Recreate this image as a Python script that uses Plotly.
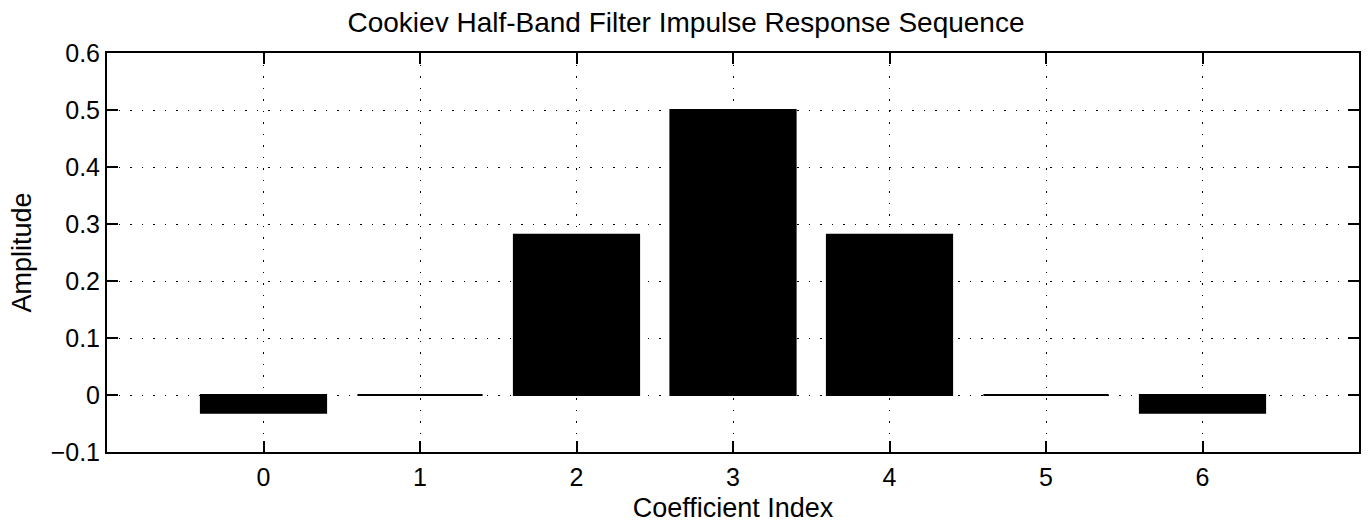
import plotly.graph_objects as go

coef_index = [0, 1, 2, 3, 4, 5, 6]
amplitude = [-0.03125, 0.0, 0.28125, 0.5, 0.28125, 0.0, -0.03125]
y_ticks = [-0.1, 0, 0.1, 0.2, 0.3, 0.4, 0.5, 0.6]
y_tick_text = ["\u22120.1", "0", "0.1", "0.2", "0.3", "0.4", "0.5", "0.6"]

font = "Liberation Sans, Arial, sans-serif"
fs = 25

fig = go.Figure()
fig.add_trace(go.Bar(
    x=coef_index, y=amplitude, width=0.8,
    marker=dict(color="black", line=dict(color="black", width=2)),
    showlegend=False,
))

axis_common = dict(
    showline=True, linecolor="black", linewidth=2, mirror="ticks",
    ticks="inside", ticklen=11, tickwidth=2, tickcolor="black",
    showgrid=True, gridcolor="black", gridwidth=1.2, griddash="1.5px,10px",
    zeroline=False, automargin=False,
    tickfont=dict(family=font, size=fs, color="black"),
)

fig.update_xaxes(range=[-1, 7], tickvals=coef_index,
                 title=dict(text="Coefficient Index", font=dict(family=font, size=27, color="black"), standoff=8),
                 ticklabelstandoff=2,
                 **axis_common)
fig.update_yaxes(range=[-0.1, 0.6], tickvals=y_ticks, ticktext=y_tick_text,
                 title=dict(text="Amplitude", font=dict(family=font, size=27, color="black"), standoff=11),
                 **axis_common)

fig.update_layout(
    width=1372, height=525,
    margin=dict(l=107, r=13, t=53, b=73),
    paper_bgcolor="white", plot_bgcolor="white",
    title=dict(text="Cookiev Half-Band Filter Impulse Response Sequence",
               font=dict(family=font, size=28, color="black"),
               x=0.5, xanchor="center", y=0.958, yanchor="middle"),
)

fig.write_html("out.html")
